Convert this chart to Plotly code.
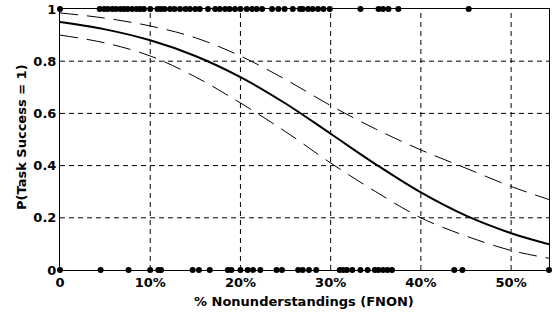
import plotly.graph_objects as go

# Observed outcomes (% nonunderstandings) for successful (1) and failed (0) tasks
success_x = [0, 4.4, 4.9, 5.3, 5.8, 6.2, 6.7, 7.1, 7.5, 8.0, 8.5, 8.9, 9.3, 10.0,
             10.8, 11.2, 11.6, 12.2, 12.7, 13.3, 13.9, 14.4, 15.0, 15.5, 16.4,
             17.2, 17.7, 18.3, 18.8, 19.4, 20.0, 20.7, 21.3, 21.8, 22.4,
             23.5, 24.2, 24.9, 25.8, 26.6, 26.9, 27.5, 28.0, 28.6, 29.2, 29.9,
             33.3, 35.3, 35.8, 36.4, 37.5, 45.3]
fail_x = [0, 4.5, 7.6, 10.0, 10.9, 11.2, 14.7, 15.4, 16.6, 18.6, 19.0, 20.0,
          20.8, 21.4, 22.2, 24.0, 24.6, 26.4, 26.9, 27.6, 28.4, 31.0, 31.4,
          31.8, 32.4, 33.3, 34.1, 34.9, 35.3, 35.8, 36.3, 36.8, 43.7, 44.6, 54.2]

# Fitted curve and confidence bounds, read at sample points
curve_x = [0, 5, 10, 15, 20, 25, 30, 35, 40, 45, 50, 54.2]
fit_y = [0.950, 0.922, 0.880, 0.820, 0.739, 0.638, 0.522, 0.405, 0.297, 0.208, 0.141, 0.099]
upper_y = [0.985, 0.965, 0.935, 0.890, 0.820, 0.730, 0.630, 0.540, 0.460, 0.390, 0.320, 0.270]
lower_y = [0.900, 0.870, 0.820, 0.740, 0.640, 0.530, 0.410, 0.300, 0.200, 0.130, 0.075, 0.045]

x_ticks = [0, 10, 20, 30, 40, 50]
x_tick_labels = ["0", "10%", "20%", "30%", "40%", "50%"]
y_ticks = [0, 0.2, 0.4, 0.6, 0.8, 1]
y_tick_labels = ["0", "0.2", "0.4", "0.6", "0.8", "1"]
x_title = "% Nonunderstandings (FNON)"
y_title = "P(Task Success = 1)"

fig = go.Figure()
for ys in (upper_y, lower_y):
    fig.add_trace(go.Scatter(x=curve_x, y=ys, mode="lines",
                             line=dict(color="black", width=1, dash="18px,9px", shape="spline"),
                             showlegend=False, hoverinfo="skip"))
fig.add_trace(go.Scatter(x=curve_x, y=fit_y, mode="lines",
                         line=dict(color="black", width=2, shape="spline"),
                         showlegend=False))
fig.add_trace(go.Scatter(x=success_x, y=[1] * len(success_x), mode="markers",
                         marker=dict(color="black", size=6), cliponaxis=False, showlegend=False))
fig.add_trace(go.Scatter(x=fail_x, y=[0] * len(fail_x), mode="markers",
                         marker=dict(color="black", size=6), cliponaxis=False, showlegend=False))

grid_x = [t for t in x_ticks if t != 0]
grid_y = [t for t in y_ticks if t not in (0, 1)]
shapes = []
for gx in grid_x:
    shapes.append(dict(type="line", xref="x", yref="paper", x0=gx, x1=gx, y0=0, y1=1,
                       line=dict(color="black", width=1, dash="5px,4px"), layer="below"))
for gy in grid_y:
    shapes.append(dict(type="line", xref="paper", yref="y", x0=0, x1=1, y0=gy, y1=gy,
                       line=dict(color="black", width=1, dash="5px,4px"), layer="below"))

fam = "DejaVu Sans, sans-serif"
tickfont = dict(family=fam, size=13, color="black", weight="bold")
annotations = [
    dict(text="<b>" + x_title + "</b>", xref="paper", yref="paper", x=0.498, y=-0.1226,
         xanchor="center", yanchor="middle", showarrow=False,
         font=dict(family=fam, size=13, color="black")),
    dict(text="<b>" + y_title + "</b>", xref="paper", yref="paper", x=-0.0777, y=0.5096,
         xanchor="center", yanchor="middle", showarrow=False, textangle=-90,
         font=dict(family=fam, size=13, color="black")),
]
fig.update_layout(
    width=552, height=317,
    margin=dict(l=60, r=3, t=9, b=47),
    paper_bgcolor="white", plot_bgcolor="white",
    font=dict(family=fam, size=13, color="black"),
    shapes=shapes,
    annotations=annotations,
    xaxis=dict(range=[0, 54.2], tickvals=x_ticks, ticktext=x_tick_labels,
               showgrid=False, zeroline=False, showline=True, linecolor="black",
               linewidth=1, mirror=True, ticks="", ticklen=0, tickfont=tickfont,
               automargin=False),
    yaxis=dict(range=[0, 1], tickvals=y_ticks, ticktext=y_tick_labels,
               showgrid=False, zeroline=False, showline=True, linecolor="black",
               linewidth=1, mirror=True, ticks="", ticklen=0, tickfont=tickfont,
               automargin=False),
)
fig.write_html("out.html", config={"displayModeBar": False},
               post_script="document.body.style.margin='0px';")
